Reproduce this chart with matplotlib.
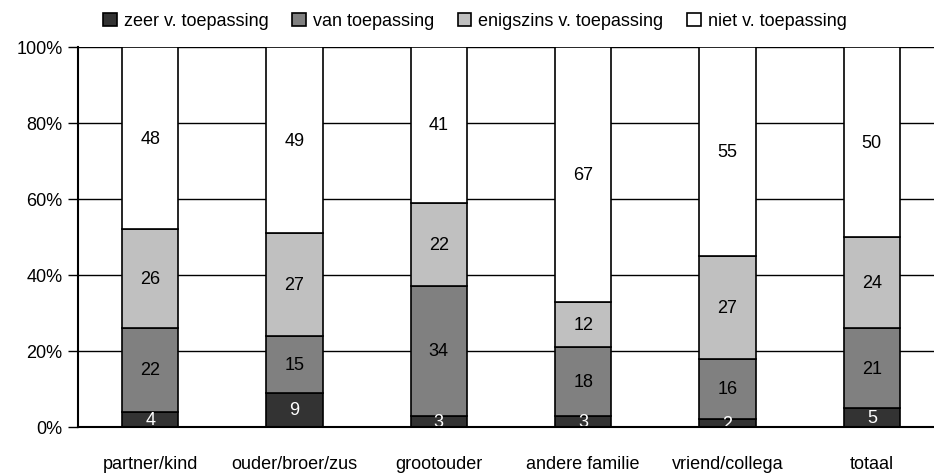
import matplotlib
matplotlib.use("Agg")
import matplotlib.pyplot as plt
import numpy as np

plt.rcParams['font.family'] = ['Liberation Sans', 'DejaVu Sans']

categories = ["partner/kind", "ouder/broer/zus", "grootouder", "andere familie", "vriend/collega", "totaal"]
series_names = ["zeer v. toepassing", "van toepassing", "enigszins v. toepassing", "niet v. toepassing"]
zeer = [4, 9, 3, 3, 2, 5]
van = [22, 15, 34, 18, 16, 21]
enigszins = [26, 27, 22, 12, 27, 24]
niet = [48, 49, 41, 67, 55, 50]
yticks = [0, 20, 40, 60, 80, 100]
ytick_labels = ["0%", "20%", "40%", "60%", "80%", "100%"]

colors = ["#333333", "#808080", "#c0c0c0", "#ffffff"]
text_colors = ["white", "black", "black", "black"]
FS = 13

fig = plt.figure(figsize=(9.34, 4.77), dpi=100)
ax = fig.add_axes([78/934, 1-428/477, 866/934, 380/477])

x = np.arange(len(categories))
bottom = np.zeros(len(categories))
handles = []
for vals, col, tc, name in zip([zeer, van, enigszins, niet], colors, text_colors, series_names):
    vals = np.array(vals, dtype=float)
    b = ax.bar(x, vals, 0.39, bottom=bottom, color=col, edgecolor="black", linewidth=1.2, label=name, zorder=2)
    handles.append(b)
    for xi, v, bt in zip(x, vals, bottom):
        ax.text(xi, bt + v/2, f"{int(v)}", ha="center", va="center", color=tc, fontsize=FS, zorder=3)
    bottom += vals

ax.set_xlim(-0.5, len(categories) - 0.5)
ax.set_ylim(0, 100)
ax.set_yticks(yticks)
ax.set_yticklabels(ytick_labels, fontsize=FS)
ax.set_xticks(x)
ax.set_xticklabels(categories, fontsize=FS)
ax.tick_params(axis="x", length=0, pad=20)
ax.tick_params(axis="y", length=7, width=1, pad=4, direction="out")
ax.yaxis.grid(True, color="black", linewidth=1, zorder=0)
ax.set_axisbelow(True)
for s in ["top", "right"]:
    ax.spines[s].set_visible(False)
ax.spines["left"].set_linewidth(1.5)
ax.spines["bottom"].set_linewidth(1.5)
ax.spines["left"].set_zorder(4)
ax.spines["bottom"].set_zorder(4)

fig.legend(handles=handles, labels=series_names, loc="center", bbox_to_anchor=(475/934, 1-22/477),
           ncol=4, frameon=False, fontsize=FS, handlelength=0.75, handleheight=0.75,
           handletextpad=0.4, columnspacing=1.3, borderaxespad=0)

fig.savefig("out.png", dpi=100)
